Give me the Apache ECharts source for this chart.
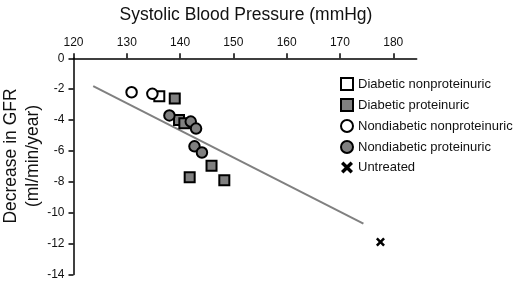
<!DOCTYPE html>
<html>
<head>
<meta charset="utf-8">
<script src="https://cdn.jsdelivr.net/npm/echarts@6/dist/echarts.min.js"></script>
<style>
  html, body { margin: 0; padding: 0; background: #fff; }
  #chart { width: 520px; height: 282px; }
</style>
</head>
<body>
<div id="chart"></div>
<script>
// values: [systolic BP, decrease in GFR]
var diabeticNonprot = [[136.1, -2.45]];
var diabeticProt = [[139.0, -2.6], [139.8, -4.0], [140.8, -4.2], [145.9, -6.95], [141.8, -7.7], [148.3, -7.9]];
var nondiabeticNonprot = [[130.9, -2.2], [134.8, -2.3]];
var nondiabeticProt = [[138.0, -3.7], [142.0, -4.1], [143.0, -4.55], [142.7, -5.7], [144.1, -6.1]];
var untreated = [[177.6, -11.9]];
var regressionLine = [[123.7, -1.8], [174.4, -10.7]];
var xTicks = [120, 130, 140, 150, 160, 170, 180];

var font = "'Liberation Sans', Arial, sans-serif";
var crossPath = 'path://M2,0 L5,3 L8,0 L10,2 L7,5 L10,8 L8,10 L5,7 L2,10 L0,8 L3,5 L0,2 Z';

var chart = echarts.init(document.getElementById('chart'));

var option = {
    animation: false,
    textStyle: { fontFamily: font, color: '#000' },
    title: {
        text: 'Systolic Blood Pressure (mmHg)',
        left: 241,
        textAlign: 'center',
        top: 1,
        textStyle: { fontFamily: font, fontSize: 17.5, fontWeight: 'normal', color: '#111' }
    },
    grid: { left: 73.5, right: 103.3, top: 58.3, bottom: 7.5 },
    legend: {
        orient: 'vertical',
        left: 335,
        top: 72,
        itemWidth: 12,
        itemHeight: 12,
        itemGap: 7,
        textStyle: { fontFamily: font, fontSize: 13, color: '#111' },
        data: ['Diabetic nonproteinuric', 'Diabetic proteinuric', 'Nondiabetic nonproteinuric', 'Nondiabetic proteinuric', 'Untreated']
    },
    xAxis: {
        type: 'value',
        position: 'top',
        min: 120,
        max: 184.4,
        interval: 10,
        splitLine: { show: false },
        axisLine: { onZero: false, lineStyle: { color: '#000', width: 1.5 } },
        axisTick: { customValues: xTicks, length: 5, lineStyle: { color: '#000', width: 1.5 } },
        axisLabel: { customValues: xTicks, fontSize: 12, color: '#111', margin: 10 }
    },
    yAxis: {
        type: 'value',
        min: -14,
        max: 0,
        interval: 2,
        splitLine: { show: false },
        axisLine: { show: true, onZero: false, lineStyle: { color: '#000', width: 1.5 } },
        axisTick: { show: true, length: 5, lineStyle: { color: '#000', width: 1.5 } },
        axisLabel: { fontSize: 12, color: '#111', margin: 9 }
    },
    graphic: [{
        type: 'text',
        x: 22,
        y: 156,
        rotation: Math.PI / 2,
        style: {
            text: 'Decrease in GFR\n(ml/min/year)',
            font: '17.5px ' + font,
            fill: '#111',
            align: 'center',
            verticalAlign: 'middle',
            lineHeight: 22
        }
    }],
    series: [
        {
            type: 'line',
            data: regressionLine,
            symbol: 'none',
            silent: true,
            lineStyle: { color: '#808080', width: 2 },
            z: 1
        },
        {
            name: 'Diabetic nonproteinuric',
            type: 'scatter',
            symbol: 'rect',
            symbolSize: 10,
            data: diabeticNonprot,
            itemStyle: { color: '#fff', borderColor: '#000', borderWidth: 2, opacity: 1 }
        },
        {
            name: 'Diabetic proteinuric',
            type: 'scatter',
            symbol: 'rect',
            symbolSize: 10,
            data: diabeticProt,
            itemStyle: { color: '#808080', borderColor: '#000', borderWidth: 2, opacity: 1 }
        },
        {
            name: 'Nondiabetic nonproteinuric',
            type: 'scatter',
            symbol: 'circle',
            symbolSize: 10.5,
            data: nondiabeticNonprot,
            itemStyle: { color: '#fff', borderColor: '#000', borderWidth: 2, opacity: 1 }
        },
        {
            name: 'Nondiabetic proteinuric',
            type: 'scatter',
            symbol: 'circle',
            symbolSize: 10.5,
            data: nondiabeticProt,
            itemStyle: { color: '#808080', borderColor: '#000', borderWidth: 2, opacity: 1 }
        },
        {
            name: 'Untreated',
            type: 'scatter',
            symbol: crossPath,
            symbolSize: 9,
            data: untreated,
            itemStyle: { color: '#000', opacity: 1 }
        }
    ]
};

chart.setOption(option);
</script>
</body>
</html>
